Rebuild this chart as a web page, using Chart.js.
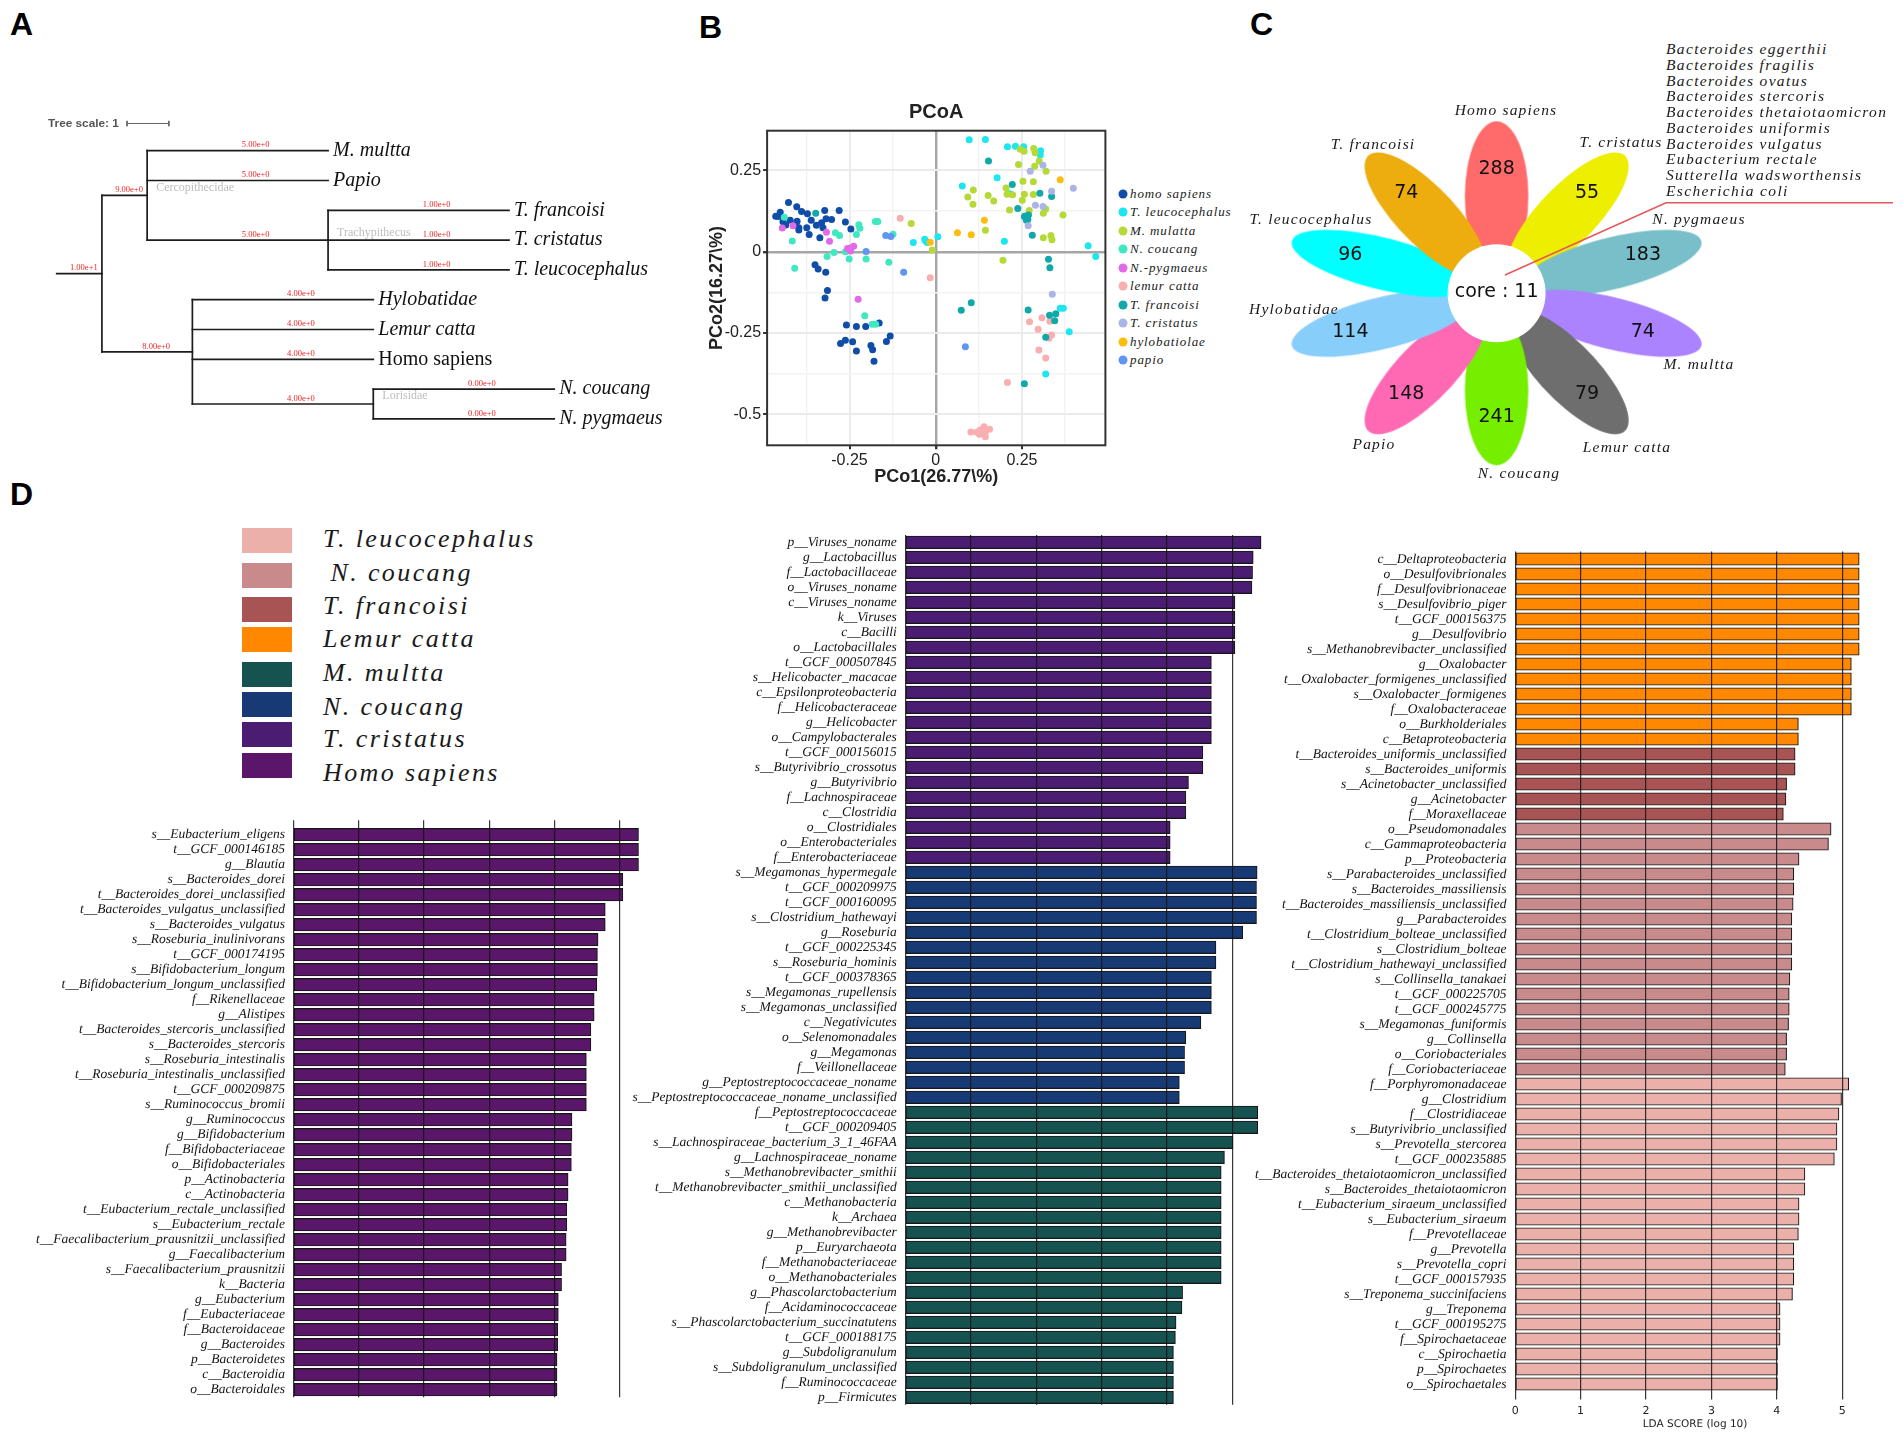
<!DOCTYPE html>
<html>
<head>
<meta charset="utf-8">
<title>Primate gut microbiome figure</title>
<script src="https://cdn.jsdelivr.net/npm/chart.js@4"></script>
<style>
  html, body { margin: 0; padding: 0; background: #fff; }
  #page { position: relative; width: 1902px; height: 1439px; overflow: hidden; background: #fff; }
  #page canvas { position: absolute; }
  .txt { position: absolute; white-space: nowrap; transform: translateY(-50%); line-height: 1; color: #111; }
  .panel { font: bold 32px "Liberation Sans", sans-serif; color: #000; }
  .sp { font: italic 15.5px "Liberation Serif", serif; letter-spacing: 1.2px; transform: translate(-50%, -50%); color: #1a1a1a; }
  .list { font: italic 15.5px "Liberation Serif", serif; letter-spacing: 1.35px; color: #1a1a1a; }
  .pcoa { font: italic 13px "Liberation Serif", serif; letter-spacing: .9px; color: #1a1a1a; }
  .lda { font: italic 26px "Liberation Serif", serif; letter-spacing: 2.4px; color: #1a1a1a; }
  .treescale { font: bold 11.8px "Liberation Sans", sans-serif; color: #555; }
  .dot, .swatch { position: absolute; }
  .dot { width: 9px; height: 9px; border-radius: 50%; transform: translate(-50%, -50%); }
</style>
</head>
<body>
<div id="page">
  <canvas id="tree" style="left:40px;top:100px" width="660" height="350"></canvas>
  <canvas id="pcoa" style="left:700px;top:90px" width="410" height="401"></canvas>
  <canvas id="flower" style="left:1270px;top:100px" width="632" height="390"></canvas>
  <canvas id="ldaLeft" style="left:0;top:815px" width="660" height="585"></canvas>
  <canvas id="ldaMid" style="left:620px;top:530px" width="650" height="878"></canvas>
  <canvas id="ldaRight" style="left:1240px;top:546px" width="640" height="889"></canvas>
</div>
<script>
'use strict';

/* ---------- A: tree data (x in branch length, y in leaf rows) ---------- */
const leafNames = ['M. multta', 'Papio', 'T. francoisi', 'T. cristatus', 'T. leucocephalus',
  'Hylobatidae', 'Lemur catta', 'Homo sapiens', 'N. coucang', 'N. pygmaeus'];
const leafDepth = [6, 6, 10, 10, 10, 7, 7, 7, 11, 11];
const hBranchFrom = [0, 1, 2, 2, 2, 6, 6, 6, 1, 3, 3, 3, 3, 7, 7];
const hBranchTo   = [1, 2, 6, 6, 6, 10, 10, 10, 3, 7, 7, 7, 7, 11, 11];
const hBranchRow  = [4.125, 1.5, 0, 1, 3, 2, 3, 4, 6.75, 5, 6, 7, 8.5, 8, 9];
const hBranchText = ['1.00e+1', '9.00e+0', '5.00e+0', '5.00e+0', '5.00e+0', '1.00e+0', '1.00e+0', '1.00e+0',
  '8.00e+0', '4.00e+0', '4.00e+0', '4.00e+0', '4.00e+0', '0.00e+0', '0.00e+0'];
const vBranchDepth = [1, 2, 6, 3, 7];
const vBranchTop   = [1.5, 0, 2, 5, 8];
const vBranchEnd   = [6.75, 3, 4, 8.5, 9];
const cladeNames = ['Cercopithecidae', 'Trachypithecus', 'Lorisidae'];
const cladeDepth = [2.2, 6.2, 7.2];
const cladeRow   = [1.25, 2.77, 8.24];

/* ---------- B: PCoA points [PCo1, PCo2] ---------- */
const pcoaNames = ['homo sapiens', 'T. leucocephalus', 'M. mulatta', 'N. coucang', 'N.-pygmaeus',
  'lemur catta', 'T. francoisi', 'T. cristatus', 'hylobatiolae', 'papio'];
const pcoaColors = ['#0F4DA8', '#1CE6F0', '#B5D936', '#3FE8C0', '#E26AE8',
  '#F9AEB0', '#10A8A8', '#ABB4E6', '#FBBE0F', '#6096F0'];
const homoPts = [[-.427,.151],[-.403,.138],[-.389,.124],[-.372,.117],[-.322,.127],[-.280,.127],[-.451,.121],[-.464,.109],
  [-.457,.108],[-.402,.094],[-.361,.097],[-.422,.097],[-.443,.092],[-.435,.082],[-.406,.084],[-.397,.074],[-.397,.067],
  [-.374,.074],[-.346,.081],[-.331,.089],[-.318,.101],[-.302,.099],[-.327,.074],[-.367,.053],[-.336,.043],[-.262,.091],
  [-.246,.070],[-.350,-.040],[-.341,-.053],[-.319,-.063],[-.314,-.119],[-.321,-.142],[-.259,-.225],[-.230,-.230],
  [-.203,-.230],[-.164,-.219],[-.132,-.259],[-.143,-.276],[-.276,-.282],[-.262,-.272],[-.241,-.277],[-.188,-.288],
  [-.183,-.301],[-.230,-.305],[-.179,-.337]];
const leucoPts = [[.097,.344],[.144,.345],[.208,.323],[.231,.324],[.255,.323],[.304,.310],[.303,.297],[.178,.227],
  [.077,.202],[.215,.178],[.442,.018],[.464,-.015],[.006,.046],[-.065,.028],[-.032,.038],[-.029,.033],[-.025,.028],
  [.199,.032],[.387,-.246],[.361,-.174],[.370,-.174],[.319,-.376]];
const mulattaPts = [[.245,.315],[.256,.309],[.284,.317],[.288,.304],[.300,.279],[.240,.268],[.287,.263],[.320,.247],
  [.253,.217],[.283,.215],[.204,.196],[.109,.190],[.093,.168],[.152,.173],[.168,.156],[.108,.146],[.207,.177],[.223,.175],
  [.257,.177],[.283,.176],[.251,.158],[.214,.128],[.271,.127],[.319,.131],[.312,.118],[.369,.113],[-.071,.087],[.144,.066],
  [.312,.043],[.334,.050],[.337,.037],[-.010,.005],[.195,-.026]];
const coucangPts = [[-.439,.106],[-.416,.033],[-.409,-.051],[-.315,-.015],[-.295,-.002],[-.291,.058],[-.279,.050],
  [-.230,.053],[-.223,.083],[-.220,.072],[-.175,.093],[-.168,.093],[-.124,.054],[-.262,0],[-.251,-.022],[-.202,-.022],
  [-.136,-.032],[-.206,-.197],[-.184,-.223],[-.174,-.223]];
const pygmaeusPts = [[-.445,.073],[-.414,.080],[-.317,.060],[-.308,.032],[-.256,.010],[-.247,.002],[-.246,.012],
  [-.238,.017],[-.225,-.146]];
const lemurPts = [[-.103,.103],[-.016,-.080],[.272,-.215],[.308,-.203],[.331,-.214],[.297,-.238],[.336,-.256],[.328,-.266],
  [.299,-.302],[.319,-.327],[.208,-.402],[.102,-.554],[.119,-.555],[.129,-.548],[.140,-.538],[.156,-.546],[.133,-.558],
  [.144,-.569],[.143,-.556],[.127,-.561],[.138,-.550]];
const francoisiPts = [[.153,.279],[.222,.207],[.302,.180],[.336,.170],[.238,.133],[.257,.108],[.261,.110],[.269,.113],
  [.263,.097],[.267,.099],[.280,.051],[-.348,.118],[.327,-.023],[.331,-.049],[.103,-.157],[.074,-.180],[.268,-.179],
  [.330,-.195],[.348,-.191],[.345,-.212],[.319,-.263],[.257,-.406]];
const cristatusPts = [[.274,.247],[.311,.266],[.336,.186],[.399,.195],[.289,.143],[.311,.139],[.268,.080],[.338,-.131]];
const hylobPts = [[.361,.221],[.141,.097],[.063,.058],[.103,.052],[-.016,.029]];
const papioPts = [[-.202,.001],[-.145,.050],[-.130,.047],[-.093,-.063],[.086,-.292]];
const pcoaPts = [homoPts, leucoPts, mulattaPts, coucangPts, pygmaeusPts, lemurPts, francoisiPts, cristatusPts, hylobPts, papioPts];

/* ---------- C: flower data (clockwise from the top) ---------- */
const petalNames  = ['Homo sapiens', 'T. cristatus', 'N. pygmaeus', 'M. multta', 'Lemur catta',
  'N. coucang', 'Papio', 'Hylobatidae', 'T. leucocephalus', 'T. francoisi'];
const petalCounts = [288, 55, 183, 74, 79, 241, 148, 114, 96, 74];
const petalColors = ['#FF6A6A', '#EEEE00', '#79BFC9', '#AB82FF', '#6E6E6E',
  '#76EE00', '#FF69B4', '#87CEFA', '#00FFFF', '#EEAD0E'];
const coreCount = 11;
const coreSpecies = ['Bacteroides eggerthii', 'Bacteroides fragilis', 'Bacteroides ovatus', 'Bacteroides stercoris',
  'Bacteroides thetaiotaomicron', 'Bacteroides uniformis', 'Bacteroides vulgatus', 'Eubacterium rectale',
  'Sutterella wadsworthensis', 'Escherichia coli'];

/* ---------- D: LDA scores ---------- */
const ldaLegendNames  = ['T. leucocephalus', ' N. coucang', 'T. francoisi', 'Lemur catta', 'M. multta', 'N. coucang', 'T. cristatus', 'Homo sapiens'];
const ldaLegendColors = ['#EBB0AA', '#C98A8C', '#A85454', '#FF8800', '#16524F', '#183A74', '#4A1C72', '#5A1669'];

const homoLabels = ['s__Eubacterium_eligens', 't__GCF_000146185', 'g__Blautia', 's__Bacteroides_dorei',
  't__Bacteroides_dorei_unclassified', 't__Bacteroides_vulgatus_unclassified', 's__Bacteroides_vulgatus',
  's__Roseburia_inulinivorans', 't__GCF_000174195', 's__Bifidobacterium_longum', 't__Bifidobacterium_longum_unclassified',
  'f__Rikenellaceae', 'g__Alistipes', 't__Bacteroides_stercoris_unclassified', 's__Bacteroides_stercoris',
  's__Roseburia_intestinalis', 't__Roseburia_intestinalis_unclassified', 't__GCF_000209875', 's__Ruminococcus_bromii',
  'g__Ruminococcus', 'g__Bifidobacterium', 'f__Bifidobacteriaceae', 'o__Bifidobacteriales', 'p__Actinobacteria',
  'c__Actinobacteria', 't__Eubacterium_rectale_unclassified', 's__Eubacterium_rectale',
  't__Faecalibacterium_prausnitzii_unclassified', 'g__Faecalibacterium', 's__Faecalibacterium_prausnitzii', 'k__Bacteria',
  'g__Eubacterium', 'f__Eubacteriaceae', 'f__Bacteroidaceae', 'g__Bacteroides', 'p__Bacteroidetes', 'c__Bacteroidia', 'o__Bacteroidales'];
const homoValues = [5.29, 5.29, 5.29, 5.05, 5.05, 4.78, 4.78, 4.67, 4.66, 4.66, 4.65, 4.61, 4.61, 4.56, 4.56, 4.49, 4.49, 4.49, 4.49,
  4.27, 4.27, 4.26, 4.26, 4.21, 4.21, 4.19, 4.19, 4.18, 4.18, 4.11, 4.11, 4.06, 4.06, 4.05, 4.05, 4.04, 4.04, 4.04];

const cristatusLabels = ['p__Viruses_noname', 'g__Lactobacillus', 'f__Lactobacillaceae', 'o__Viruses_noname', 'c__Viruses_noname',
  'k__Viruses', 'c__Bacilli', 'o__Lactobacillales', 't__GCF_000507845', 's__Helicobacter_macacae', 'c__Epsilonproteobacteria',
  'f__Helicobacteraceae', 'g__Helicobacter', 'o__Campylobacterales', 't__GCF_000156015', 's__Butyrivibrio_crossotus',
  'g__Butyrivibrio', 'f__Lachnospiraceae', 'c__Clostridia', 'o__Clostridiales', 'o__Enterobacteriales', 'f__Enterobacteriaceae'];
const cristatusValues = [5.44, 5.32, 5.31, 5.30, 5.04, 5.04, 5.04, 5.04, 4.68, 4.68, 4.68, 4.68, 4.68, 4.68, 4.55, 4.55, 4.33, 4.29, 4.29, 4.05, 4.05, 4.05];

const coucangLabels = ['s__Megamonas_hypermegale', 't__GCF_000209975', 't__GCF_000160095', 's__Clostridium_hathewayi', 'g__Roseburia',
  't__GCF_000225345', 's__Roseburia_hominis', 't__GCF_000378365', 's__Megamonas_rupellensis', 's__Megamonas_unclassified',
  'c__Negativicutes', 'o__Selenomonadales', 'g__Megamonas', 'f__Veillonellaceae', 'g__Peptostreptococcaceae_noname',
  's__Peptostreptococcaceae_noname_unclassified'];
const coucangValues = [5.38, 5.37, 5.37, 5.37, 5.16, 4.75, 4.75, 4.68, 4.68, 4.68, 4.52, 4.29, 4.27, 4.27, 4.19, 4.19];

const multtaLabels = ['f__Peptostreptococcaceae', 't__GCF_000209405', 's__Lachnospiraceae_bacterium_3_1_46FAA', 'g__Lachnospiraceae_noname',
  's__Methanobrevibacter_smithii', 't__Methanobrevibacter_smithii_unclassified', 'c__Methanobacteria', 'k__Archaea',
  'g__Methanobrevibacter', 'p__Euryarchaeota', 'f__Methanobacteriaceae', 'o__Methanobacteriales', 'g__Phascolarctobacterium',
  'f__Acidaminococcaceae', 's__Phascolarctobacterium_succinatutens', 't__GCF_000188175', 'g__Subdoligranulum',
  's__Subdoligranulum_unclassified', 'f__Ruminococcaceae', 'p__Firmicutes'];
const multtaValues = [5.39, 5.39, 5.01, 4.88, 4.83, 4.83, 4.83, 4.83, 4.83, 4.83, 4.83, 4.83, 4.24, 4.23, 4.14, 4.13, 4.10, 4.10, 4.10, 4.10];

const lemurLabels = ['c__Deltaproteobacteria', 'o__Desulfovibrionales', 'f__Desulfovibrionaceae', 's__Desulfovibrio_piger', 't__GCF_000156375',
  'g__Desulfovibrio', 's__Methanobrevibacter_unclassified', 'g__Oxalobacter', 't__Oxalobacter_formigenes_unclassified',
  's__Oxalobacter_formigenes', 'f__Oxalobacteraceae', 'o__Burkholderiales', 'c__Betaproteobacteria'];
const lemurValues = [5.26, 5.26, 5.26, 5.26, 5.26, 5.26, 5.26, 5.14, 5.14, 5.14, 5.14, 4.33, 4.33];

const francoisiLabels = ['t__Bacteroides_uniformis_unclassified', 's__Bacteroides_uniformis', 's__Acinetobacter_unclassified', 'g__Acinetobacter', 'f__Moraxellaceae'];
const francoisiValues = [4.28, 4.28, 4.15, 4.14, 4.10];

const coucangBLabels = ['o__Pseudomonadales', 'c__Gammaproteobacteria', 'p__Proteobacteria', 's__Parabacteroides_unclassified',
  's__Bacteroides_massiliensis', 't__Bacteroides_massiliensis_unclassified', 'g__Parabacteroides', 't__Clostridium_bolteae_unclassified',
  's__Clostridium_bolteae', 't__Clostridium_hathewayi_unclassified', 's__Collinsella_tanakaei', 't__GCF_000225705', 't__GCF_000245775',
  's__Megamonas_funiformis', 'g__Collinsella', 'o__Coriobacteriales', 'f__Coriobacteriaceae'];
const coucangBValues = [4.83, 4.79, 4.34, 4.26, 4.26, 4.25, 4.23, 4.23, 4.23, 4.23, 4.20, 4.19, 4.19, 4.18, 4.15, 4.15, 4.13];

const leucoLabels = ['f__Porphyromonadaceae', 'g__Clostridium', 'f__Clostridiaceae', 's__Butyrivibrio_unclassified', 's__Prevotella_stercorea',
  't__GCF_000235885', 't__Bacteroides_thetaiotaomicron_unclassified', 's__Bacteroides_thetaiotaomicron', 't__Eubacterium_siraeum_unclassified',
  's__Eubacterium_siraeum', 'f__Prevotellaceae', 'g__Prevotella', 's__Prevotella_copri', 't__GCF_000157935', 's__Treponema_succinifaciens',
  'g__Treponema', 't__GCF_000195275', 'f__Spirochaetaceae', 'c__Spirochaetia', 'p__Spirochaetes', 'o__Spirochaetales'];
const leucoValues = [5.10, 4.99, 4.95, 4.92, 4.92, 4.88, 4.43, 4.43, 4.34, 4.34, 4.33, 4.26, 4.26, 4.26, 4.24, 4.05, 4.05, 4.05, 4.01, 4.01, 4.01];

const ldaTicks = [0, 1, 2, 3, 4, 5];

/* ---------- helpers ---------- */
Chart.defaults.animation = false;
Chart.defaults.responsive = false;
Chart.defaults.layout.autoPadding = false;   // keep plot areas exactly where the padding puts them
Chart.defaults.plugins.legend.display = false;
Chart.defaults.plugins.tooltip.enabled = false;

const page = document.getElementById('page');

function addText(text, x, y, cls) {
  const el = document.createElement('div');
  el.className = 'txt ' + cls;
  el.textContent = text;
  el.style.left = x + 'px';
  el.style.top = y + 'px';
  page.appendChild(el);
  return el;
}

function hiddenAxis(min, max, reverse) {
  return { type: 'linear', display: false, min: min, max: max, reverse: !!reverse };
}

// a scale otherwise reserves half a tick label at each end, which shifts the plot area
function noEndPadding(scale) {
  scale.paddingTop = scale.paddingBottom = scale.paddingLeft = scale.paddingRight = 0;
}

/* ---------- A: tree ---------- */
function drawTree() {
  const lines = [];
  hBranchFrom.forEach((x0, i) => {
    lines.push([{ x: x0, y: hBranchRow[i] }, { x: hBranchTo[i], y: hBranchRow[i] }]);
  });
  vBranchDepth.forEach((x, i) => {
    lines.push([{ x: x, y: vBranchTop[i] }, { x: x, y: vBranchEnd[i] }]);
  });
  const datasets = lines.map(pts => ({
    data: pts, showLine: true, borderColor: '#1c1c1c', borderWidth: 1.7, pointRadius: 0, borderCapStyle: 'square'
  }));
  // tree scale bar, one branch-length unit wide
  const bar = [[1.555, 2.48, -0.913, -0.913], [1.555, 1.555, -1.0, -0.82], [2.48, 2.48, -1.0, -0.82]];
  bar.forEach(b => datasets.push({
    data: [{ x: b[0], y: b[2] }, { x: b[1], y: b[3] }], showLine: true, borderColor: '#666', borderWidth: 1, pointRadius: 0
  }));

  const treeText = {
    id: 'treeText',
    afterDatasetsDraw(chart) {
      const { ctx, scales: { x, y } } = chart;
      ctx.save();
      ctx.textBaseline = 'middle';
      ctx.fillStyle = '#ee2222';
      ctx.font = '8.5px "Liberation Serif"';
      ctx.textAlign = 'center';
      hBranchText.forEach((t, i) => {
        const at = hBranchFrom[i] + 0.6 * (hBranchTo[i] - hBranchFrom[i]);
        ctx.fillText(t, x.getPixelForValue(at), y.getPixelForValue(hBranchRow[i]) - 5.5);
      });
      ctx.textAlign = 'left';
      ctx.fillStyle = '#bdbdbd';
      ctx.font = '12px "Liberation Serif"';
      cladeNames.forEach((t, i) => {
        ctx.fillText(t, x.getPixelForValue(cladeDepth[i]), y.getPixelForValue(cladeRow[i]));
      });
      ctx.fillStyle = '#111';
      leafNames.forEach((t, i) => {
        ctx.font = (t === 'Homo sapiens' ? '' : 'italic ') + '20px "Liberation Serif"';
        ctx.fillText(t, x.getPixelForValue(leafDepth[i]) + 5, y.getPixelForValue(i));
      });
      ctx.restore();
    }
  };

  new Chart(document.getElementById('tree'), {
    type: 'scatter',
    data: { datasets: datasets },
    options: {
      layout: { padding: 0 },
      scales: { x: hiddenAxis(-0.369, 14.223), y: hiddenAxis(-1.701, 10.044, true) }
    },
    plugins: [treeText]
  });
}

/* ---------- B: PCoA ---------- */
function quarter(v) { return Math.abs(v * 4 - Math.round(v * 4)) < 1e-6; }

function pcoaAxis(min, max, titleText, fitProp, fitSize, titlePad) {
  return {
    type: 'linear', min: min, max: max,
    border: { display: false },
    afterFit(scale) { scale[fitProp] = fitSize; noEndPadding(scale); },
    title: { display: true, text: titleText, color: '#222', padding: titlePad,
      font: { family: '"Liberation Sans"', size: 18, weight: 'bold' } },
    grid: {
      tickLength: 4,
      color: c => Math.abs(c.tick.value) < 1e-6 ? '#a6a6a6' : (quarter(c.tick.value) ? '#ebebeb' : '#f3f3f3'),
      lineWidth: c => Math.abs(c.tick.value) < 1e-6 ? 2.4 : (quarter(c.tick.value) ? 2 : 1.4),
      tickColor: c => quarter(c.tick.value) ? '#333' : 'rgba(0,0,0,0)'
    },
    ticks: {
      stepSize: 0.125, includeBounds: false, autoSkip: false, maxRotation: 0, padding: 2, color: '#222',
      font: { family: '"Liberation Sans"', size: 16 },
      callback: v => quarter(v) ? String(Math.round(v * 100) / 100) : ''
    }
  };
}

function drawPcoa() {
  const frame = {
    id: 'frame',
    afterDatasetsDraw(chart) {
      const a = chart.chartArea, ctx = chart.ctx;
      ctx.save();
      ctx.strokeStyle = '#333';
      ctx.lineWidth = 2;
      ctx.strokeRect(a.left, a.top, a.right - a.left, a.bottom - a.top);
      ctx.restore();
    }
  };
  new Chart(document.getElementById('pcoa'), {
    type: 'scatter',
    data: {
      datasets: pcoaNames.map((name, i) => ({
        label: name,
        data: pcoaPts[i].map(p => ({ x: p[0], y: p[1] })),
        backgroundColor: pcoaColors[i], borderWidth: 0, pointRadius: 3.5, order: -i
      }))
    },
    options: {
      layout: { padding: { right: 4.6, bottom: 0.7 } },
      plugins: {
        title: { display: true, text: 'PCoA', color: '#222', fullSize: false, padding: { top: 10, bottom: 6.7 },
          font: { family: '"Liberation Sans"', size: 20, weight: 'bold' } }
      },
      scales: {
        x: pcoaAxis(-0.489, 0.492, 'PCo1(26.77\\%)', 'height', 45, { top: 0, bottom: 2 }),
        y: pcoaAxis(-0.595, 0.372, 'PCo2(16.27\\%)', 'width', 67.1, { top: 6.5, bottom: 0 })
      }
    },
    plugins: [frame]
  });
  pcoaNames.forEach((name, i) => {
    const y = 194 + i * 18.45;
    const dot = document.createElement('div');
    dot.className = 'dot';
    dot.style.cssText = `left:1122.5px;top:${y}px;background:${pcoaColors[i]}`;
    page.appendChild(dot);
    addText(name, 1130, y, 'pcoa');
  });
}

/* ---------- C: flower ---------- */
const STRETCH = 1.25;   // the flower is wider than it is tall

function petalSprite(color, angle) {
  const c = document.createElement('canvas');
  c.width = 240;
  c.height = 240;
  const ctx = c.getContext('2d');
  ctx.translate(120, 120);
  ctx.scale(STRETCH, 1);
  ctx.rotate(angle);
  ctx.fillStyle = color;
  ctx.beginPath();
  ctx.ellipse(0, 0, 25.4, 75, 0, 0, Math.PI * 2);
  ctx.fill();
  return c;
}

function drawFlower() {
  const angles = petalCounts.map((_, i) => i * Math.PI / 5);
  const flowerText = {
    id: 'flowerText',
    afterDatasetsDraw(chart) {
      const { ctx, scales: { x, y } } = chart;
      ctx.save();
      ctx.fillStyle = '#111';
      ctx.font = '19px "DejaVu Sans"';
      ctx.textAlign = 'center';
      ctx.textBaseline = 'middle';
      petalCounts.forEach((n, i) => {
        ctx.fillText(String(n), x.getPixelForValue(Math.sin(angles[i]) * 124 * 1.24), y.getPixelForValue(Math.cos(angles[i]) * 124));
      });
      ctx.fillText('core : ' + coreCount, x.getPixelForValue(0), y.getPixelForValue(1));
      ctx.restore();
    }
  };
  new Chart(document.getElementById('flower'), {
    type: 'scatter',
    data: {
      datasets: [
        { // pointer line to the list of shared species
          data: [{ x: 8.4, y: 18.3 }, { x: 169.4, y: 90.6 }, { x: 396.4, y: 90.6 }],
          showLine: true, borderColor: '#E4575A', borderWidth: 1.6, pointRadius: 0, order: 0
        },
        { data: [{ x: 0, y: 0 }], backgroundColor: '#fff', borderWidth: 0, pointRadius: 49, order: 1 },
        {
          data: angles.map(a => ({ x: Math.sin(a) * 97 * STRETCH, y: Math.cos(a) * 97 })),
          pointStyle: angles.map((a, i) => petalSprite(petalColors[i], a)),
          pointRadius: 10, order: 2
        }
      ]
    },
    options: {
      layout: { padding: 0 },
      scales: { x: hiddenAxis(-226.6, 405.4), y: hiddenAxis(-196.7, 193.3) }
    },
    plugins: [flowerText]
  });
  const labelX = [1506, 1621, 1699, 1699, 1627, 1519, 1374, 1294, 1311, 1373];
  const labelY = [110, 142, 219, 364, 447, 473, 444, 309, 219, 144];
  petalNames.forEach((n, i) => addText(n, labelX[i], labelY[i], 'sp'));
  coreSpecies.forEach((n, i) => addText(n, 1666, 49.3 + i * 15.7, 'list'));
}

/* ---------- D: LDA bars ---------- */
const preciseText = {
  id: 'preciseText',
  beforeDraw(chart) { chart.ctx.textRendering = 'geometricPrecision'; }
};

function drawLda(canvasId, labels, values, colors, layout) {
  const labelFont = { family: '"Liberation Serif"', size: 13.5, style: 'italic' };
  const gridColor = 'rgba(20,20,20,0.85)';
  new Chart(document.getElementById(canvasId), {
    type: 'bar',
    data: {
      labels: labels,
      datasets: [{
        data: values, backgroundColor: colors, borderColor: '#161616', borderWidth: 1.1,
        borderSkipped: false, barThickness: 12.5
      }]
    },
    options: {
      indexAxis: 'y',
      layout: { padding: layout.padding },
      scales: {
        x: {
          type: 'linear', position: layout.axisAt, min: 0, max: 5.5,
          afterBuildTicks(scale) { scale.ticks = ldaTicks.map(v => ({ value: v })); },
          afterFit(scale) { scale.height = layout.axisSize; noEndPadding(scale); },
          border: { display: false },
          grid: { z: 1, color: gridColor, tickColor: gridColor, lineWidth: 1.2, tickLength: layout.tick, drawTicks: layout.tick > 0 },
          ticks: { display: !!layout.title, padding: 5, color: '#222', maxRotation: 0,
            font: { family: '"DejaVu Sans"', size: 11 } },
          title: { display: !!layout.title, text: layout.title || '', color: '#222', padding: { top: 0, bottom: 1 },
            font: { family: '"DejaVu Sans"', size: 10.5 } }
        },
        y: {
          type: 'category',
          afterFit(scale) { scale.width = layout.labelWidth; noEndPadding(scale); },
          border: { display: false },
          grid: { display: false, drawTicks: false },
          ticks: { autoSkip: false, padding: 8.6, color: '#111', font: labelFont }
        }
      }
    },
    plugins: [preciseText]
  });
}

function fillGroups(groups, colors) {
  const out = [];
  groups.forEach((g, i) => g.forEach(() => out.push(colors[i])));
  return out;
}

function drawPanelD() {
  ldaLegendNames.forEach((n, i) => {
    const tops = [527.7, 563.3, 596.7, 626.7, 662, 692.3, 722.3, 752.7];
    const textY = [539.3, 573.3, 606, 639.3, 672.7, 706.7, 739.3, 772.7];
    const box = document.createElement('div');
    box.className = 'swatch';
    box.style.cssText = `left:241.5px;top:${tops[i]}px;width:50.7px;height:25px;background:${ldaLegendColors[i]}`;
    page.appendChild(box);
    addText(n.trim(), n[0] === ' ' ? 330.4 : 323, textY[i], 'lda');
  });

  drawLda('ldaLeft', homoLabels, homoValues, '#5A1669', {
    padding: { top: 5.2, bottom: 2.8, right: 7.8 }, axisAt: 'top', axisSize: 7, tick: 7, labelWidth: 293.6
  });
  drawLda('ldaMid', cristatusLabels.concat(coucangLabels, multtaLabels),
    cristatusValues.concat(coucangValues, multtaValues),
    fillGroups([cristatusValues, coucangValues, multtaValues], ['#4A1C72', '#183A74', '#16524F']), {
      padding: { top: 4.8, bottom: 3.2, right: 5 }, axisAt: 'top', axisSize: 0, tick: 0, labelWidth: 285.3
    });
  drawLda('ldaRight', lemurLabels.concat(francoisiLabels, coucangBLabels, leucoLabels),
    lemurValues.concat(francoisiValues, coucangBValues, leucoValues),
    fillGroups([lemurValues, francoisiValues, coucangBValues, leucoValues], ['#FF8800', '#A85454', '#C98A8C', '#EBB0AA']), {
      padding: { top: 5.5, bottom: 3, right: 5.1 }, axisAt: 'bottom', axisSize: 40.5, tick: 8, labelWidth: 275.2,
      title: 'LDA SCORE (log 10)'
    });
}

/* ---------- page ---------- */
addText('A', 10, 24, 'panel');
addText('B', 699, 27, 'panel');
addText('C', 1250, 24, 'panel');
addText('D', 10, 494, 'panel');
addText('Tree scale: 1', 48, 123, 'treescale');

drawTree();
drawPcoa();
drawFlower();
drawPanelD();
</script>
</body>
</html>
